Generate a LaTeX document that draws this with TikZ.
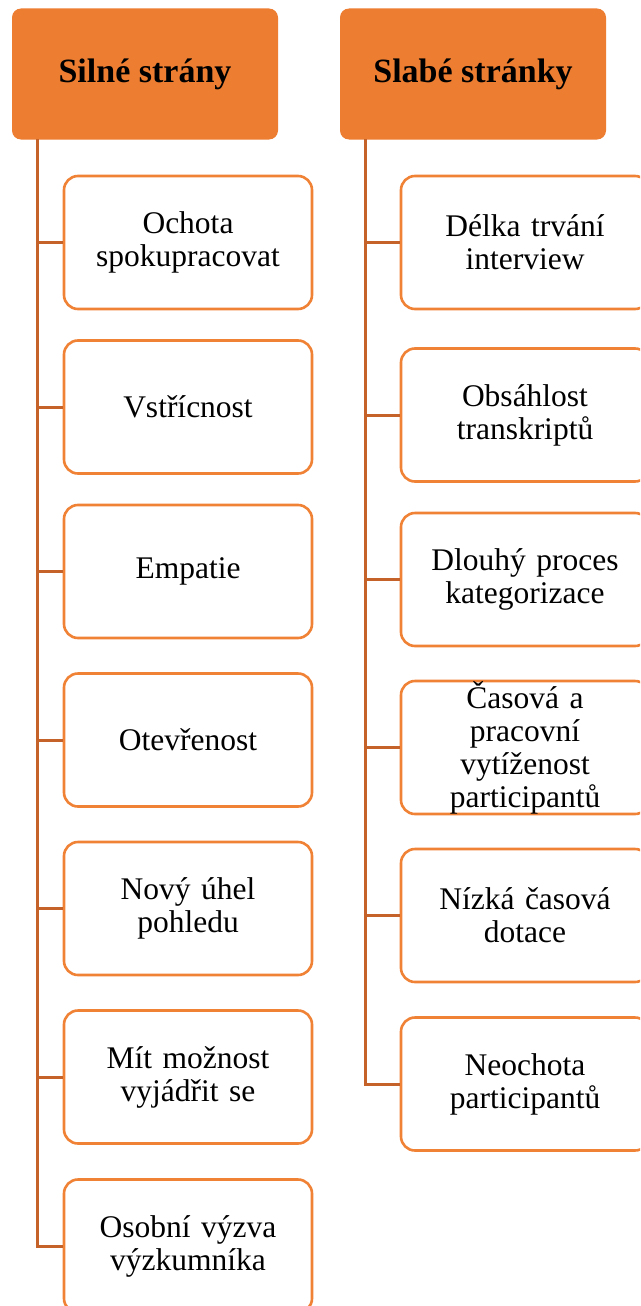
\documentclass[tikz,border=0pt]{standalone}
\usepackage{fontspec}
\setmainfont{Liberation Serif}
\definecolor{hdr}{HTML}{ED7D31}
\definecolor{bord}{HTML}{F08236}
\definecolor{conn}{HTML}{C4622A}
\tikzset{
  hdrbox/.style={rectangle, rounded corners=9pt, fill=hdr, draw=none,
    minimum width=266pt, minimum height=131pt, inner sep=0pt,
    font=\fontsize{34}{38}\selectfont\bfseries},
  itembox/.style={rectangle, rounded corners=14pt, draw=bord, fill=white, line width=2.6pt,
    minimum width=248pt, minimum height=133pt, inner sep=0pt, text width=240pt, align=center,
    font=\fontsize{31.5}{33}\selectfont},
  connline/.style={draw=conn, line width=3pt},
}
\begin{document}
\begin{tikzpicture}[x=1pt,y=-1pt]
\useasboundingbox (0,0) rectangle (640,1306);
\clip (0,0) rectangle (640,1306);
\fill[white] (0,0) rectangle (640,1306);
% headers
\node[hdrbox] (h1) at (145,74) {Silné strány};
\node[hdrbox] (h2) at (473,74) {Slabé stránky};
% left column
\node[itembox] (l1) at (188,242.5) {Ochota\\spokupracovat};
\node[itembox] (l2) at (188,407) {Vstřícnost};
\node[itembox] (l3) at (188,571.5) {Empatie};
\node[itembox] (l4) at (188,740) {Otevřenost};
\node[itembox] (l5) at (188,908.5) {Nový úhel\\pohledu};
\node[itembox] (l6) at (188,1077) {Mít možnost\\vyjádřit se};
\node[itembox] (l7) at (188,1246) {Osobní výzva\\výzkumníka};
% right column
\node[itembox] (r1) at (525,242.5) {Délka trvání\\interview};
\node[itembox] (r2) at (525,415) {Obsáhlost\\transkriptů};
\node[itembox] (r3) at (525,579.5) {Dlouhý proces\\kategorizace};
\node[itembox] (r4) at (525,747.5) {Časová a\\pracovní\\vytíženost\\participantů};
\node[itembox] (r5) at (525,915.5) {Nízká časová\\dotace};
\node[itembox] (r6) at (525,1084) {Neochota\\participantů};
% connectors
\coordinate (lt) at (37,139);
\coordinate (rt) at (365,139);
\draw[connline] (lt) |- (l7.west);
\foreach \i in {1,...,6} {\draw[connline] (lt |- l\i.west) -- (l\i.west);}
\draw[connline] (rt) |- (r6.west);
\foreach \i in {1,...,5} {\draw[connline] (rt |- r\i.west) -- (r\i.west);}
\end{tikzpicture}
\end{document}
